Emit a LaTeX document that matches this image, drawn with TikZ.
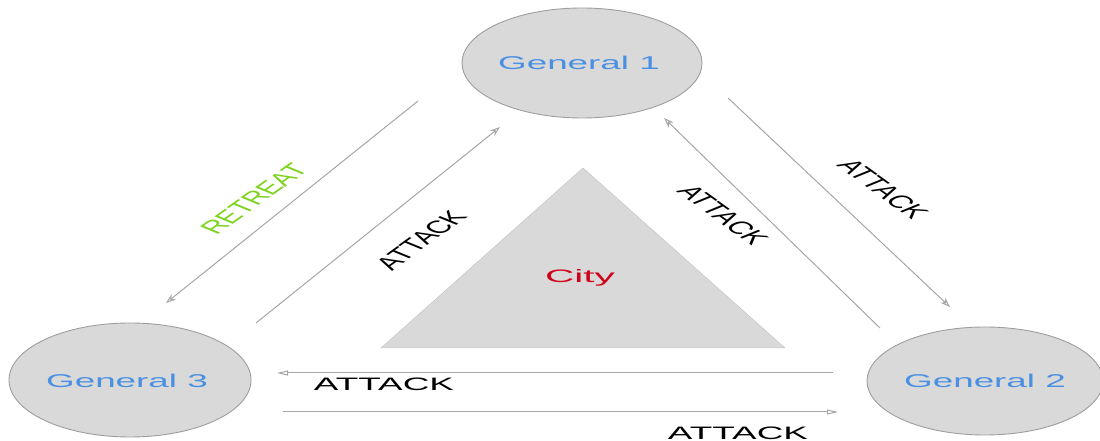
\documentclass[tikz,border=0pt]{standalone}
\usepackage{fontspec}
\setmainfont{Liberation Sans}
\usetikzlibrary{arrows.meta,shapes.geometric}
\definecolor{shapefill}{HTML}{D9D9D9}
\definecolor{shapeline}{HTML}{9E9E9E}
\definecolor{arrowgrey}{HTML}{A6A6A6}
\definecolor{genblue}{HTML}{4A90E2}
\definecolor{cityred}{HTML}{D0021B}
\definecolor{retreatgreen}{HTML}{7ED321}
\tikzset{
  general/.style={ellipse, draw=shapeline, fill=shapefill, line width=0.9pt, inner sep=0pt},
  gentext/.style={text=genblue, inner sep=0pt, font=\fontsize{18.5}{20}\selectfont, xscale=1.99},
  msg/.style={draw=arrowgrey, line width=1pt, -{Stealth[open, length=10pt, width=7pt]}},
  hmsg/.style={draw=arrowgrey, line width=1pt, -{Triangle[open, length=11pt, width=5pt]}},
  lbl/.style={inner sep=0pt, font=\fontsize{18}{20}\selectfont, xscale=1.85},
  hlbl/.style={inner sep=0pt, font=\fontsize{18}{20}\selectfont, xscale=2.05},
}
\begin{document}
\begin{tikzpicture}[x=1pt, y=1pt]
\useasboundingbox (0,0) rectangle (1100,441);

% generals
\node[general, minimum width=240pt, minimum height=110pt] (g1) at (582,378) {};
\node[general, minimum width=242pt, minimum height=114pt] (g3) at (130,61) {};
\node[general, minimum width=236pt, minimum height=108pt] (g2) at (985,60) {};
\node[gentext] (t1) at (579,378) {General 1};
\node[gentext] (t3) at (127,60) {General 3};
\node[gentext] (t2) at (985,60) {General 2};

% city
\coordinate (cA) at (583,273);
\coordinate (cB) at (381,93);
\coordinate (cC) at (785,93);
\fill[shapefill] (cA) -- (cB) -- (cC) -- cycle;
\draw[shapeline!60, line width=0.5pt] (cA) -- (cB) -- (cC) -- cycle;
\node[hlbl, text=cityred, xscale=1.1] (city) at (580,163) {City};

% arrow end points
\coordinate (r1) at (418,340);
\coordinate (r2) at (166,138);
\coordinate (l1) at (256,118);
\coordinate (l2) at (500,314);
\coordinate (m1) at (880,113);
\coordinate (m2) at (664,323);
\coordinate (q1) at (728,343);
\coordinate (q2) at (950,134);
\coordinate (h1) at (833,68);
\coordinate (h2) at (277,68);
\coordinate (k1) at (283,29);
\coordinate (k2) at (838,29);

\draw[msg] (r1) -- (r2);
\draw[msg] (l1) -- (l2);
\draw[msg] (m1) -- (m2);
\draw[msg] (q1) -- (q2);
\draw[hmsg] (h1) -- (h2);
\draw[hmsg] (k1) -- (k2);

% labels
\node[lbl, text=retreatgreen, rotate=52.5] (lr) at (254,242) {RETREAT};
\node[lbl, rotate=53] (ll) at (421,201) {ATTACK};
\node[lbl, rotate=-53] (lm) at (723,226) {ATTACK};
\node[lbl, rotate=-53] (lq) at (883,252) {ATTACK};
\node[hlbl] (lh) at (384,57) {ATTACK};
\node[hlbl] (lk) at (738,8) {ATTACK};
\end{tikzpicture}
\end{document}
